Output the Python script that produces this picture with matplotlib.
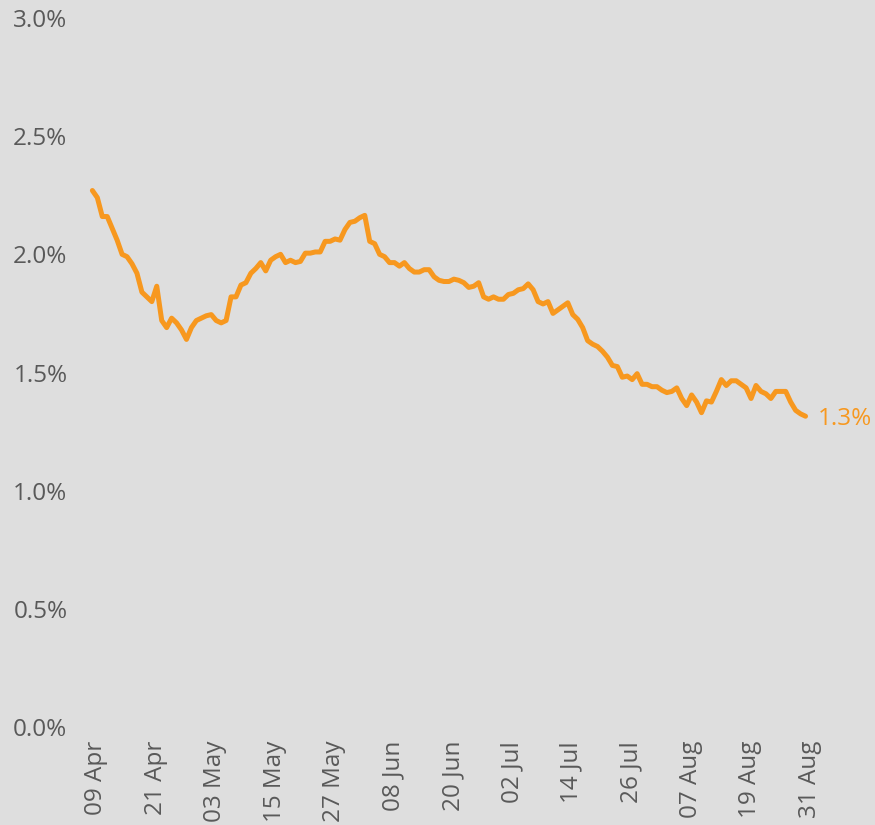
import matplotlib as mpl
import matplotlib.pyplot as plt
import matplotlib.dates as mdates
import matplotlib.ticker as mticker
import matplotlib.transforms as mtransforms
import pandas as pd

mpl.use("Agg")

# daily values, 09 Apr .. 31 Aug (percent)
start_date = "2020-04-09"
end_date = "2020-08-31"
rate = [
    2.27, 2.24, 2.16, 2.16, 2.11, 2.06, 2.00, 1.99, 1.96, 1.92,
    1.84, 1.82, 1.80, 1.865, 1.72, 1.69, 1.73, 1.71, 1.68, 1.64,
    1.69, 1.72, 1.73, 1.74, 1.745, 1.72, 1.71, 1.72, 1.82, 1.82,
    1.87, 1.88, 1.92, 1.94, 1.965, 1.93, 1.975, 1.99, 2.00, 1.965,
    1.975, 1.965, 1.97, 2.005, 2.005, 2.01, 2.01, 2.055, 2.055, 2.065,
    2.06, 2.105, 2.135, 2.14, 2.155, 2.165, 2.055, 2.045, 2.00, 1.99,
    1.965, 1.965, 1.95, 1.965, 1.94, 1.925, 1.925, 1.935, 1.935, 1.905,
    1.89, 1.885, 1.885, 1.895, 1.89, 1.88, 1.86, 1.865, 1.88, 1.82,
    1.81, 1.82, 1.81, 1.81, 1.83, 1.835, 1.85, 1.855, 1.875, 1.85,
    1.80, 1.79, 1.80, 1.75, 1.765, 1.78, 1.795, 1.745, 1.725, 1.69,
    1.635, 1.62, 1.61, 1.59, 1.565, 1.53, 1.525, 1.48, 1.485, 1.47,
    1.495, 1.45, 1.45, 1.44, 1.44, 1.425, 1.415, 1.42, 1.435, 1.39,
    1.36, 1.405, 1.375, 1.33, 1.38, 1.375, 1.42, 1.47, 1.445, 1.465,
    1.465, 1.45, 1.435, 1.39, 1.445, 1.42, 1.41, 1.39, 1.42, 1.42,
    1.42, 1.375, 1.34, 1.325, 1.315,
]
end_label = "1.3%"
y_ticks = [0.0, 0.5, 1.0, 1.5, 2.0, 2.5, 3.0]

BG = "#dedede"
ORANGE = "#f7981f"
GREY = "#595959"
FS = 17.5


def main():
    plt.rcParams["font.family"] = ["Open Sans", "DejaVu Sans"]

    dates = pd.date_range(start_date, end_date, freq="D")

    fig = plt.figure(figsize=(8.75, 8.25), dpi=100, facecolor=BG)
    ax = fig.add_axes([80 / 875, 98 / 825, 780 / 875, 709 / 825])
    ax.set_facecolor(BG)

    ax.plot(dates, rate, color=ORANGE, lw=3.6, solid_joinstyle="round",
            solid_capstyle="round")

    ax.annotate(end_label, (dates[-1], rate[-1]), xytext=(9, -2),
                textcoords="offset points", color=ORANGE, fontsize=FS,
                va="center", ha="left")

    ax.set_ylim(0, 3.0)
    ax.set_yticks(y_ticks)
    ax.yaxis.set_major_formatter(mticker.FuncFormatter(
        lambda v, p: f"{v:.1f}%"))

    ax.set_xlim(dates[0] - pd.Timedelta(days=2.5),
                dates[-1] + pd.Timedelta(days=11))
    ax.set_xticks(dates[::12])
    ax.xaxis.set_major_formatter(mdates.DateFormatter("%d %b"))

    for s in ax.spines.values():
        s.set_visible(False)
    ax.tick_params(axis="both", length=0, colors=GREY, labelsize=FS)
    ax.tick_params(axis="y", pad=9)
    ax.tick_params(axis="x", pad=10)
    shift = mtransforms.ScaledTranslation(4 / 100, 0, fig.dpi_scale_trans)
    for lbl in ax.get_xticklabels():
        lbl.set_rotation(90)
        lbl.set_transform(lbl.get_transform() + shift)

    plt.savefig("out.png", dpi=100, facecolor=BG)


if __name__ == "__main__":
    main()
